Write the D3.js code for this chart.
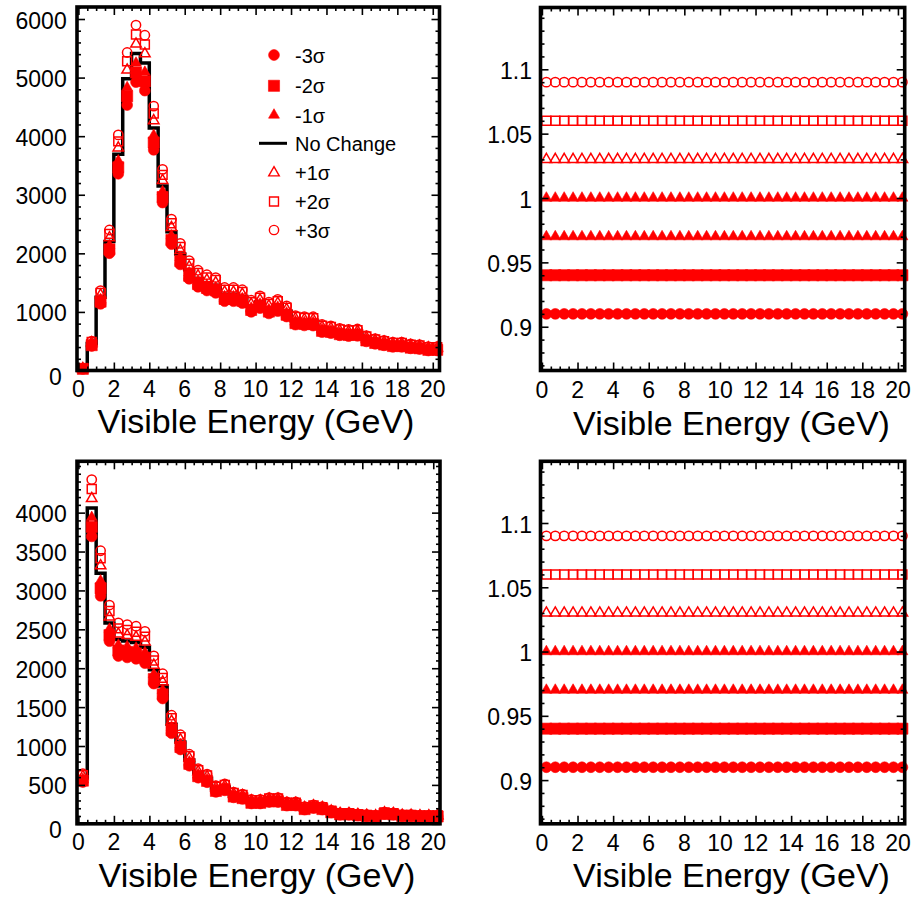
<!DOCTYPE html>
<html><head><meta charset="utf-8">
<script src="https://cdn.jsdelivr.net/npm/d3@7"></script>
<style>
body{margin:0;background:#fff}
svg{display:block}
text{font-family:"Liberation Sans",Arial,Helvetica,sans-serif;fill:#000}
</style>
</head><body>
<svg id="chart" width="914" height="901"></svg>
<script>
// ---------------- data ----------------
const energyCenters = d3.range(0.25, 20.5, 0.5);   // 41 bins, 0.5 GeV wide
const binWidth = 0.5;
const spectrumTop = [30, 460, 1250, 2200, 3690, 4980, 5410, 5250, 4140, 3150, 2370, 1990, 1720, 1570, 1500, 1456,
  1300, 1300, 1265, 1100, 1170, 1070, 1115, 1012, 860, 845, 842, 720, 700, 660, 645, 650, 546, 500, 472, 444,
  444, 415, 404, 375, 375];
const spectrumBottom = [590, 4060, 3220, 2580, 2370, 2350, 2330, 2270, 1980, 1770, 1280, 1050, 820, 651, 587, 450,
  472, 373, 351, 287, 287, 308, 308, 257, 257, 201, 223, 201, 158, 128, 128, 116, 107, 100, 137, 128, 107, 107,
  100, 100, 100];
const variationNames   = ["-3σ", "-2σ", "-1σ", "+1σ", "+2σ", "+3σ"];
const variationFactors = [0.91, 0.94, 0.97, 1.03, 1.06, 1.09];   // ratio to "No Change"
const ratioRowNames  = ["-3σ", "-2σ", "-1σ", "No Change", "+1σ", "+2σ", "+3σ"];
const ratioRowValues = [0.91, 0.94, 0.97, 1.00, 1.03, 1.06, 1.09];
const xTickValues = [0, 2, 4, 6, 8, 10, 12, 14, 16, 18, 20];
const yTicksTop = [0, 1000, 2000, 3000, 4000, 5000, 6000];
const yTicksBottom = [0, 500, 1000, 1500, 2000, 2500, 3000, 3500, 4000];
const ratioTicks = [0.9, 0.95, 1, 1.05, 1.1];
const ratioTickLabels = ["0.9", "0.95", "1", "1.05", "1.1"];
const xTitle = "Visible Energy (GeV)";

// ---------------- styles ----------------
const RED = "#ff0000";
const markerStyle = {
  "-3σ": {type: d3.symbolCircle,   size: 92,  filled: true},
  "-2σ": {type: d3.symbolSquare,   size: 124, filled: true},
  "-1σ": {type: d3.symbolTriangle, size: 52,  filled: true},
  "No Change": {type: d3.symbolTriangle, size: 52, filled: true},
  "+1σ": {type: d3.symbolTriangle, size: 48,  filled: false},
  "+2σ": {type: d3.symbolSquare,   size: 80,  filled: false},
  "+3σ": {type: d3.symbolCircle,   size: 68,  filled: false}
};

const svg = d3.select("#chart");
svg.append("rect").attr("width", 914).attr("height", 901).attr("fill", "#fff");

const panels = [
  {id: "tl", x0: 77,    x1: 439.5, y0: 7,     y1: 370.5, kind: "spec", values: spectrumTop,
   yDomain: [0, 6205], yTicks: yTicksTop, yMinor: d3.range(0, 6201, 200), labelRight: 66.7,
   xLabelBase: 396.7, titleX: 256, titleBase: 433},
  {id: "tr", x0: 540.5, x1: 904.7, y0: 7.5,   y1: 370.5, kind: "ratio",
   yDomain: [0.866, 1.148], labelRight: 532, xLabelBase: 398.3, titleX: 731.5, titleBase: 435},
  {id: "bl", x0: 77,    x1: 440,   y0: 461.3, y1: 823.8, kind: "spec", values: spectrumBottom,
   yDomain: [0, 4660], yTicks: yTicksBottom, yMinor: d3.range(0, 4601, 100), labelRight: 66.7,
   xLabelBase: 850, titleX: 257, titleBase: 886.7},
  {id: "br", x0: 540.5, x1: 904.7, y0: 461.3, y1: 823.8, kind: "ratio",
   yDomain: [0.866, 1.148], labelRight: 532, xLabelBase: 850.5, titleX: 731.5, titleBase: 887}
];

function drawMarkers(g, values, x, y, style) {
  g.append("g").selectAll("path").data(values).join("path")
    .attr("transform", (d, i) => `translate(${x(energyCenters[i])},${y(d)})`)
    .attr("d", d3.symbol(style.type, style.size)())
    .attr("fill", style.filled ? RED : "none")
    .attr("stroke", RED)
    .attr("stroke-width", style.filled ? 0.6 : 1.5);
}

panels.forEach(p => {
  const g = svg.append("g").attr("class", p.id);
  const x = d3.scaleLinear().domain([-0.08, 20.38]).range([p.x0, p.x1]);
  const y = d3.scaleLinear().domain(p.yDomain).range([p.y1, p.y0]);

  const clipId = "clip-" + p.id;
  svg.append("clipPath").attr("id", clipId).append("rect")
    .attr("x", p.x0).attr("y", p.y0).attr("width", p.x1 - p.x0).attr("height", p.y1 - p.y0);

  if (p.kind === "spec") {
    // nominal histogram (No Change) as a step line
    const edges = energyCenters.map(c => c - binWidth / 2).concat([energyCenters[energyCenters.length - 1] + binWidth / 2]);
    const stepVals = p.values.concat([p.values[p.values.length - 1]]);
    const line = d3.line().x((d, i) => x(edges[i])).y(d => y(d)).curve(d3.curveStepAfter);
    g.append("path").attr("clip-path", `url(#${clipId})`)
      .attr("d", line(stepVals)).attr("fill", "none").attr("stroke", "#000").attr("stroke-width", 3.5);
    variationNames.forEach((name, k) => {
      drawMarkers(g, p.values.map(v => v * variationFactors[k]), x, y, markerStyle[name]);
    });
  } else {
    ratioRowNames.forEach((name, k) => {
      drawMarkers(g, energyCenters.map(() => ratioRowValues[k]), x, y, markerStyle[name]);
    });
  }

  // ----- frame and ticks -----
  const tickG = g.append("g").attr("stroke", "#000").attr("stroke-width", 1.6);
  const xMinor = d3.range(0, 20.01, 0.5).filter(v => v % 2 !== 0);
  const addAxis = (axisGen, transform) => {
    const a = tickG.append("g").attr("transform", transform).call(axisGen);
    a.select(".domain").remove();
    a.selectAll("text").remove();
    a.selectAll("line").attr("stroke", "#000").attr("stroke-width", 1.6);
  };
  addAxis(d3.axisBottom(x).tickValues(xTickValues).tickSize(-8), `translate(0,${p.y1})`);
  addAxis(d3.axisBottom(x).tickValues(xMinor).tickSize(-4), `translate(0,${p.y1})`);
  addAxis(d3.axisTop(x).tickValues(xTickValues).tickSize(-8), `translate(0,${p.y0})`);
  addAxis(d3.axisTop(x).tickValues(xMinor).tickSize(-4), `translate(0,${p.y0})`);
  let yMajor, yMinor;
  if (p.kind === "spec") { yMajor = p.yTicks; yMinor = p.yMinor.filter(v => !p.yTicks.includes(v)); }
  else { yMajor = ratioTicks; yMinor = d3.range(87, 115).map(v => v / 100).filter(v => Math.round(v * 100) % 5 !== 0); }
  addAxis(d3.axisLeft(y).tickValues(yMajor).tickSize(-8), `translate(${p.x0},0)`);
  addAxis(d3.axisLeft(y).tickValues(yMinor).tickSize(-4), `translate(${p.x0},0)`);
  addAxis(d3.axisRight(y).tickValues(yMajor).tickSize(-8), `translate(${p.x1},0)`);
  addAxis(d3.axisRight(y).tickValues(yMinor).tickSize(-4), `translate(${p.x1},0)`);

  g.append("rect").attr("x", p.x0).attr("y", p.y0).attr("width", p.x1 - p.x0).attr("height", p.y1 - p.y0)
    .attr("fill", "none").attr("stroke", "#000").attr("stroke-width", 3.6);

  // ----- tick labels -----
  g.append("g").selectAll("text").data(xTickValues).join("text")
    .attr("x", d => x(d)).attr("y", p.xLabelBase)
    .attr("text-anchor", "middle").attr("font-size", 23).text(d => d);

  if (p.kind === "spec") {
    g.append("g").selectAll("text").data(p.yTicks).join("text")
      .attr("x", d => d === 0 ? p.labelRight - 5 : p.labelRight)
      .attr("y", d => y(d) + (d === 0 ? 14.5 : 9.5))
      .attr("text-anchor", "end").attr("font-size", 23).text(d => d);
  } else {
    g.append("g").selectAll("text").data(ratioTicks).join("text")
      .attr("x", p.labelRight).attr("y", d => y(d) + 9.5)
      .attr("text-anchor", "end").attr("font-size", 23).text((d, i) => ratioTickLabels[i]);
  }

  g.append("text").attr("x", p.titleX).attr("y", p.titleBase)
    .attr("text-anchor", "middle").attr("font-size", 34).text(xTitle);
});

// ----- legend (top-left panel) -----
const legendNames = ["-3σ", "-2σ", "-1σ", "No Change", "+1σ", "+2σ", "+3σ"];
const legendY = [55, 85.8, 115, 143.3, 172.8, 201.5, 230];
const leg = svg.append("g");
legendNames.forEach((name, i) => {
  const cy = legendY[i];
  if (name === "No Change") {
    leg.append("line").attr("x1", 259).attr("x2", 287).attr("y1", cy).attr("y2", cy)
      .attr("stroke", "#000").attr("stroke-width", 3);
  } else {
    const s = markerStyle[name];
    leg.append("path").attr("transform", `translate(274,${cy})`)
      .attr("d", d3.symbol(s.type, s.size)())
      .attr("fill", s.filled ? RED : "none").attr("stroke", RED).attr("stroke-width", s.filled ? 0.6 : 1.4);
  }
  leg.append("text").attr("x", 295).attr("y", cy + 7.5).attr("font-size", 20).text(name);
});
</script>
</body></html>
